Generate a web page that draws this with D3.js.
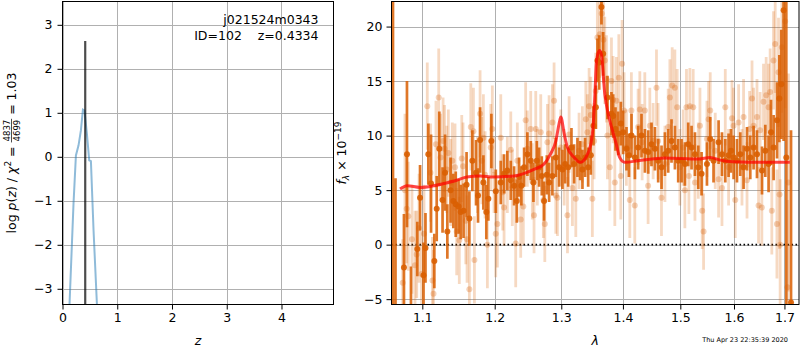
<!DOCTYPE html>
<html><head><meta charset="utf-8">
<script src="https://cdn.jsdelivr.net/npm/d3@7"></script>
<style>
body{margin:0;background:#fff}
svg text{font-family:"DejaVu Sans",sans-serif;white-space:pre}
</style></head><body>
<svg id="c" width="800" height="350"></svg>
<script>
// ---------- DATA ----------
const titleLine1 = "j021524m0343";
const titleLine2 = "ID=102    z=0.4334";
const timeStamp = "Thu Apr 23 22:35:39 2020";

const pzZ   = [0.128, 0.201, 0.245, 0.293, 0.336, 0.373, 0.402, 0.446, 0.488, 0.519, 0.567, 0.629];
const pzLog = [-3.36, -1.07, 0.03, 0.26, 0.60, 1.07, 1.05, 0.52, -0.08, -0.10, -1.67, -3.36];
const zBest = [0.415];
const zBestTop = [2.63];

const leftXTicks = [0, 1, 2, 3, 4];
const leftYTicks = [-3, -2, -1, 0, 1, 2, 3];
const rightXTicks = [1.1, 1.2, 1.3, 1.4, 1.5, 1.6, 1.7];
const rightYTicks = [-5, 0, 5, 10, 15, 20];

const darkLam = [1.0619,1.0651,1.0760,1.0799,1.0851,1.0934,1.0970,1.1016,1.1042,1.1080,1.1116,1.1160,1.1192,1.1227,1.1271,1.1305,1.1336,1.1380,1.1418,1.1451,1.1490,1.1520,1.1559,1.1601,1.1640,1.1682,1.1734,1.1762,1.1791,1.1838,1.1880,1.1909,1.1952,
1.2016,1.2088,1.2136,1.2184,1.2234,1.2283,1.2323,1.2357,1.2391,1.2432,1.2481,1.2532,1.2572,1.2623,1.2658,1.2699,1.2734,1.2776,1.2811,1.2862,1.2915,1.2966,1.3018,1.3060,1.3108,1.3160,1.3202,1.3255,1.3298,1.3335,1.3378,1.3427,1.3470,1.3513,1.3552,1.3578,1.3606,
1.3643,1.3671,1.3742,1.3808,1.3837,1.3875,1.3920,1.3965,1.4004,1.4060,1.4101,1.4145,1.4203,1.4259,1.4316,1.4375,1.4432,1.4489,1.4549,1.4606,1.4665,1.4725,1.4783,1.4842,1.4903,1.4962,1.5022,1.5083,1.5143,1.5204,1.5266,1.5327,1.5388,
1.5488,1.5549,1.5611,1.5706,1.5770,1.5833,1.5896,1.5942,1.5992,1.6057,1.6121,1.6185,1.6252,1.6316,1.6381,1.6448,1.6547,1.6613,1.6679,1.6728,1.6780,1.6849,1.6896,1.6936,1.6983,1.7038,1.7135];
const darkFlux = [30,-10,-2.1,8.3,-6.0,-0.4,4.3,-2.8,-0.3,8.3,5.6,-1.5,3.3,8.8,4.1,6.6,1.2,5.0,4.0,3.7,3.5,3.0,3.1,5.5,2.4,7.7,6.6,4.5,9.6,5.7,3.0,4.2,9.5,
4.9,5.7,6.5,6.8,5.9,5.4,4.0,6.2,5.4,7.1,8.3,7.7,5.7,7.7,7.1,6.3,4.0,6.4,5.7,6.3,8.0,7.1,6.9,7.4,7.1,8.9,7.4,8.0,7.7,6.9,8.0,7.1,8.2,10.9,12.6,16.9,16.7,
21.8,17.5,13.5,12.0,11.8,10.6,10.2,11.1,10.3,8.8,8.2,10.0,8.0,8.9,10.0,8.6,8.5,9.2,8.8,7.7,7.1,8.3,8.6,9.5,8.9,7.7,7.7,7.4,9.2,8.9,8.3,7.1,6.5,
7.4,9.7,7.7,9.4,8.3,7.7,8.2,8.6,8.0,7.7,8.3,7.1,8.8,8.0,8.9,8.3,6.8,8.6,7.4,10.3,8.9,11.4,13.4,14.7,21.5,8,-5.3];
const darkErr = [40,16.1,4.9,6.7,4.0,2.5,3.0,3.0,3.2,2.8,4.5,2.5,3.0,3.4,3.0,3.5,2.5,3.0,2.5,3.0,2.5,2.5,2.5,3.0,2.5,2.8,3.0,2.5,3.0,2.5,2.5,2.0,2.5,
2.0,2.0,1.8,1.8,1.8,1.8,2.0,1.8,1.8,1.8,2.0,1.8,1.8,1.8,1.8,1.8,1.8,1.8,1.8,1.8,1.8,1.8,1.8,1.8,1.8,1.8,1.8,1.8,1.8,1.8,1.8,1.8,1.8,1.8,2.0,2.0,2.5,
1.6,2.0,2.0,2.0,2.0,2.0,2.0,2.0,2.0,2.0,2.0,2.0,2.0,2.0,2.0,2.0,2.0,2.0,2.0,2.0,2.0,2.0,2.0,2.0,2.0,2.0,2.0,2.0,2.0,2.0,2.0,2.0,2.0,
2.0,2.0,2.0,2.0,2.0,2.0,2.0,2.0,2.0,2.0,2.0,2.0,2.0,2.0,2.0,2.2,2.2,2.4,2.6,3.0,3.0,3.5,4.0,5.0,12,30,15.8];

const lightLam = [1.0744,1.0773,1.0795,1.0816,1.0864,1.0904,1.0926,1.0957,1.0990,1.1022,1.1066,1.1109,1.1135,1.1149,1.1182,1.1219,1.1244,1.1278,1.1298,1.1328,1.1350,1.1383,1.1404,1.1441,1.1464,1.1500,1.1534,1.1552,1.1590,1.1608,1.1640,1.1660,1.1697,1.1711,1.1753,1.1791,1.1815,1.1838,1.1862,1.1895,1.1943,1.1966,1.1991,1.2015,
1.2039,1.2088,1.2117,1.2136,1.2184,1.2234,1.2257,1.2307,1.2331,1.2381,1.2420,1.2455,1.2480,1.2531,1.2555,1.2581,1.2607,1.2631,1.2683,1.2723,1.2745,1.2785,1.2811,1.2862,1.2888,1.2915,1.2940,1.2993,1.3045,1.3097,1.3123,1.3175,1.3229,1.3281,1.3334,1.3389,1.3414,1.3442,1.3469,1.3495,1.3523,1.3550,1.3576,
1.3615,1.3648,1.3675,1.3698,1.3725,1.3741,1.3781,1.3808,1.3836,1.3864,1.3891,1.3931,1.3964,1.3986,1.4019,1.4058,1.4116,1.4143,1.4201,1.4258,1.4287,1.4327,1.4373,1.4430,1.4460,1.4518,1.4576,1.4605,1.4664,1.4725,1.4783,1.4813,1.4854,1.4902,1.4943,1.4992,1.5052,1.5082,1.5111,1.5155,1.5173,1.5234,1.5266,1.5327,1.5358,1.5400,1.5425,
1.5488,1.5518,1.5549,1.5643,1.5706,1.5770,1.5833,1.5896,1.5961,1.5992,1.6024,1.6089,1.6154,1.6185,1.6252,1.6302,1.6350,1.6381,1.6448,1.6479,1.6510,1.6544,1.6577,1.6631,1.6679,1.6710,1.6744,1.6778,1.6812,1.6847,1.6879,1.6900,1.6912,1.6947,1.7014,1.7061,1.7082];
const lightFlux = [-3.5,5.0,3.3,2.6,0.5,-1.9,-0.9,1.5,-2.7,1.0,12.7,6.6,-3.3,-4.5,9.2,13.5,8.0,9.5,8.8,6.9,8.4,5.7,7.7,7.1,1.2,0.4,7.9,7.2,2.2,0.5,-4.1,10.8,10.4,-1.4,6.4,12.0,7.7,9.8,6.4,0.0,8.9,10.6,6.4,1.0,
1.9,9.8,4.8,3.4,6.4,8.7,5.2,0.1,7.7,2.3,3.5,11.4,8.8,10.6,5.8,2.7,10.6,7.1,10.3,4.1,1.9,9.4,10.2,11.2,13.2,4.5,4.3,8.9,7.1,2.7,10.1,5.2,4.2,8.6,9.2,11.5,10.3,12.7,11.9,4.2,9.5,14.1,19.0,
19.3,21.2,18.8,16.9,15.2,10.0,7.1,15.0,13.3,5.7,13.2,15.3,6.3,16.6,12.3,8.9,4.1,12.3,3.6,10.8,12.4,9.4,12.3,5.4,10.9,9.5,14.4,9.5,4.3,7.4,10.8,13.5,14.6,14.4,12.6,7.1,8.9,5.0,12.6,6.3,12.7,12.6,5.7,7.7,10.9,3.1,1.2,
9.7,11.5,12.3,8.6,6.0,5.2,12.6,7.1,11.6,10.9,4.1,11.2,7.1,11.7,5.9,10.6,13.4,10.9,11.7,3.6,10.5,3.4,13.1,13.7,12.6,14.0,3.1,16.9,18.4,1.9,15.8,4.6,0.0,18.1,20.5,-3.9,5.7];
const lightErr = [4.0,7.0,5.0,5.0,5.0,5.0,4.0,5.0,4.0,4.5,4.0,4.5,4.0,4.0,4.0,4.5,4.0,4.0,4.0,4.0,4.0,4.0,3.5,4.0,4.0,4.0,4.0,4.0,4.0,4.0,4.0,4.0,4.0,4.0,3.5,4.0,4.0,4.0,4.0,4.0,4.0,4.0,3.5,4.0,
4.0,4.0,3.5,3.5,3.5,3.5,3.5,4.0,3.5,3.5,3.5,3.5,3.5,3.5,3.5,3.5,3.5,3.5,3.5,3.5,3.5,3.5,3.5,3.5,3.5,3.5,3.5,3.5,3.5,3.5,3.5,3.5,3.5,3.5,3.5,3.5,3.5,3.5,3.5,3.5,3.5,3.5,4.0,
4.0,4.0,4.0,4.0,4.0,4.0,4.0,4.0,4.0,4.0,4.0,4.0,4.0,4.0,3.5,3.5,3.5,3.5,3.5,3.5,3.5,3.5,3.5,3.5,3.5,3.5,3.5,3.5,3.5,3.5,3.5,3.5,3.5,3.5,3.5,3.5,3.5,3.5,3.5,3.5,3.5,3.5,3.5,3.5,3.5,3.5,3.5,
3.5,3.5,3.5,3.5,3.5,3.5,3.5,3.5,3.5,3.5,3.5,3.5,3.5,3.5,3.5,3.5,3.5,3.5,3.5,3.5,3.5,3.5,3.5,3.5,4.0,4.0,4.0,4.5,4.5,5.0,5.0,5.0,6.0,6.0,8.0,8.0,10.0];

const modelLam  = [1.0709,1.0800,1.0970,1.1149,1.1285,1.1464,1.1604,1.1791,1.1980,1.2283,1.2580,1.2734,1.2832,1.2915,1.2966,1.2993,1.3045,1.3097,1.3202,1.3298,1.3389,1.3469,1.3505,1.3536,1.3563,1.3610,1.3640,1.3698,1.3753,1.3808,1.3889,1.3945,1.4028,1.4258,1.4725,1.5327,1.5549,1.5735,1.5980,1.6640,1.7110];
const modelFlux = [5.1,5.4,5.25,5.4,5.6,5.9,6.2,6.3,6.2,6.3,6.9,7.4,8.3,9.5,11.1,11.7,10.2,8.9,8.0,7.55,8.0,9.2,10.7,13.8,16.9,17.8,17.5,13.8,12.0,10.8,9.2,8.0,7.55,7.7,7.95,7.85,8.0,7.75,7.6,7.55,7.55];

// ---------- DRAW ----------
const svg = d3.select("#c");
const FS = 12.5;
const orange = "#d95f02";

const L = {x0: 62.5, x1: 333.5, y0: 1.5, y1: 304.5};
const lx = d3.scaleLinear().domain([0, 4.95]).range([L.x0, L.x1]);
const ly = d3.scaleLinear().domain([-3.357, 3.53]).range([L.y1, L.y0]);

const R = {x0: 391.5, x1: 799, y0: 1.5, y1: 304.5};
const rx = d3.scaleLog().domain([1.06, 1.73]).range([R.x0, R.x1]);
const ry = d3.scaleLinear().domain([-5.49, 22.3]).range([R.y1, R.y0]);

const defs = svg.append("defs");
defs.append("clipPath").attr("id","clipL").append("rect")
  .attr("x",L.x0).attr("y",L.y0).attr("width",L.x1-L.x0).attr("height",L.y1-L.y0);
defs.append("clipPath").attr("id","clipR").append("rect")
  .attr("x",R.x0).attr("y",R.y0).attr("width",R.x1-R.x0).attr("height",R.y1-R.y0);

function grid(g, xs, ys, xt, yt, P){
  g.selectAll(".gx").data(xt).join("line")
    .attr("x1",d=>Math.round(xs(d))+0.5).attr("x2",d=>Math.round(xs(d))+0.5)
    .attr("y1",P.y0).attr("y2",P.y1).attr("stroke","#b0b0b0").attr("stroke-width",1);
  g.selectAll(".gy").data(yt).join("line")
    .attr("y1",d=>Math.round(ys(d))+0.5).attr("y2",d=>Math.round(ys(d))+0.5)
    .attr("x1",P.x0).attr("x2",P.x1).attr("stroke","#b0b0b0").attr("stroke-width",1);
}

// ---- left
const gL = svg.append("g");
grid(gL.append("g"), lx, ly, leftXTicks, leftYTicks, L);
const gLd = gL.append("g").attr("clip-path","url(#clipL)");
gLd.append("path")
  .datum(pzZ.map((z,i)=>[z,pzLog[i]]))
  .attr("d", d3.line().x(d=>lx(d[0])).y(d=>ly(d[1])))
  .attr("fill","none").attr("stroke","#1f77b4").attr("stroke-opacity",0.5).attr("stroke-width",2);
gLd.selectAll(".zb").data(zBest).join("line")
  .attr("x1",d=>lx(d)).attr("x2",d=>lx(d))
  .attr("y1",(d,i)=>ly(zBestTop[i])).attr("y2",ly(-4))
  .attr("stroke","#000").attr("stroke-opacity",0.7).attr("stroke-width",2.2);

gL.append("g").attr("transform",`translate(0,${L.y1})`)
  .call(d3.axisBottom(lx).tickValues(leftXTicks).tickFormat(d3.format("d")).tickSize(5).tickSizeOuter(0).tickPadding(4));
gL.append("g").attr("transform",`translate(${L.x0},0)`)
  .call(d3.axisLeft(ly).tickValues(leftYTicks).tickFormat(d3.format("d")).tickSize(5).tickSizeOuter(0).tickPadding(5));
gL.append("rect").attr("x",L.x0).attr("y",L.y0).attr("width",L.x1-L.x0).attr("height",L.y1-L.y0)
  .attr("fill","none").attr("stroke","#000").attr("stroke-width",1);

gL.append("text").attr("x",318.5).attr("y",24).attr("text-anchor","end").attr("font-size",FS).text(titleLine1);
gL.append("text").attr("x",318.5).attr("y",39.5).attr("text-anchor","end").attr("font-size",FS).text(titleLine2);
gL.append("text").attr("x",(L.x0+L.x1)/2).attr("y",345).attr("text-anchor","middle")
  .attr("font-size",FS).attr("font-style","italic").text("z");

const lab = svg.append("g").attr("transform","translate(15.5,153) rotate(-90)");
const t1 = lab.append("text").attr("font-size",FS);
t1.append("tspan").text("log ");
t1.append("tspan").attr("font-style","italic").text("p");
t1.append("tspan").text("(");
t1.append("tspan").attr("font-style","italic").text("z");
t1.append("tspan").text(") / ");
t1.append("tspan").attr("font-style","italic").text("χ");
t1.append("tspan").attr("font-size",9).attr("dy",-5).text("2");
t1.append("tspan").attr("dy",5).text(" = ");
const fracNum = lab.append("text").attr("font-size",8.5).attr("text-anchor","middle").text("4837");
const fracDen = lab.append("text").attr("font-size",8.5).attr("text-anchor","middle").text("4699");
const t3 = lab.append("text").attr("font-size",FS).text(" = 1.03");
const w1 = t1.node().getComputedTextLength();
const wf = Math.max(fracNum.node().getComputedTextLength(), fracDen.node().getComputedTextLength()) + 2;
const w3 = t3.node().getComputedTextLength();
const W = w1 + wf + w3;
const x0 = -W/2;
t1.attr("x", x0);
fracNum.attr("x", x0 + w1 + wf/2).attr("y", -5.5);
fracDen.attr("x", x0 + w1 + wf/2).attr("y", 4.5);
lab.append("line").attr("x1", x0 + w1).attr("x2", x0 + w1 + wf).attr("y1",-4).attr("y2",-4)
  .attr("stroke","#000").attr("stroke-width",0.7);
t3.attr("x", x0 + w1 + wf);

// ---- right
const gR = svg.append("g");
grid(gR.append("g"), rx, ry, rightXTicks, rightYTicks, R);
const gRd = gR.append("g").attr("clip-path","url(#clipR)");

gRd.append("line").attr("x1",R.x0).attr("x2",R.x1).attr("y1",ry(0)).attr("y2",ry(0))
  .attr("stroke","#000").attr("stroke-width",1.6).attr("stroke-dasharray","1.6,2.4");

const light = lightLam.map((l,i)=>({l, f: lightFlux[i], e: lightErr[i]}));
const dark = darkLam.map((l,i)=>({l, f: darkFlux[i], e: darkErr[i]}));

gRd.append("g").selectAll("line").data(light).join("line")
  .attr("x1",d=>rx(d.l)).attr("x2",d=>rx(d.l))
  .attr("y1",d=>ry(d.f-d.e)).attr("y2",d=>ry(d.f+d.e))
  .attr("stroke",orange).attr("stroke-opacity",0.24).attr("stroke-width",2.8);
gRd.append("g").selectAll("circle").data(light).join("circle")
  .attr("cx",d=>rx(d.l)).attr("cy",d=>ry(d.f)).attr("r",3)
  .attr("fill",orange).attr("fill-opacity",0.28);

gRd.append("g").selectAll("line").data(dark).join("line")
  .attr("x1",d=>rx(d.l)).attr("x2",d=>rx(d.l))
  .attr("y1",d=>ry(d.f-d.e)).attr("y2",d=>ry(d.f+d.e))
  .attr("stroke",orange).attr("stroke-opacity",0.85).attr("stroke-width",2.7);
gRd.append("g").selectAll("circle").data(dark).join("circle")
  .attr("cx",d=>rx(d.l)).attr("cy",d=>ry(d.f)).attr("r",3)
  .attr("fill",orange).attr("fill-opacity",0.9);

gRd.append("path").datum(modelLam.map((l,i)=>[l,modelFlux[i]]))
  .attr("d", d3.line().curve(d3.curveMonotoneX).x(d=>rx(d[0])).y(d=>ry(d[1])))
  .attr("fill","none").attr("stroke","#ff0000").attr("stroke-opacity",0.72).attr("stroke-width",3);

gR.append("g").attr("transform",`translate(0,${R.y1})`)
  .call(d3.axisBottom(rx).tickValues(rightXTicks).tickFormat(d3.format(".1f")).tickSize(5).tickSizeOuter(0).tickPadding(4));
gR.append("g").attr("transform",`translate(${R.x0},0)`)
  .call(d3.axisLeft(ry).tickValues(rightYTicks).tickFormat(d3.format("d")).tickSize(5).tickSizeOuter(0).tickPadding(4));
gR.append("rect").attr("x",R.x0).attr("y",R.y0).attr("width",R.x1-R.x0).attr("height",R.y1-R.y0)
  .attr("fill","none").attr("stroke","#000").attr("stroke-width",1);

gR.append("text").attr("x",(R.x0+R.x1)/2).attr("y",345).attr("text-anchor","middle")
  .attr("font-size",FS).attr("font-style","italic").text("λ");

const rl = svg.append("g").attr("transform","translate(346,153) rotate(-90)");
const rt = rl.append("text").attr("font-size",FS).attr("text-anchor","middle");
rt.append("tspan").attr("font-style","italic").text("f");
rt.append("tspan").attr("font-size",9).attr("font-style","italic").attr("dy",3).text("λ");
rt.append("tspan").attr("dy",-3).text(" × 10");
rt.append("tspan").attr("font-size",9).attr("dy",-5).text("−19");

svg.append("text").attr("x",788).attr("y",342).attr("text-anchor","end").attr("font-size",6.5).text(timeStamp);

svg.selectAll(".domain").remove();
svg.selectAll(".tick text").attr("font-size",FS).attr("font-family","DejaVu Sans").attr("fill","#000");
svg.selectAll(".tick line").attr("stroke","#000");
</script>
</body></html>
